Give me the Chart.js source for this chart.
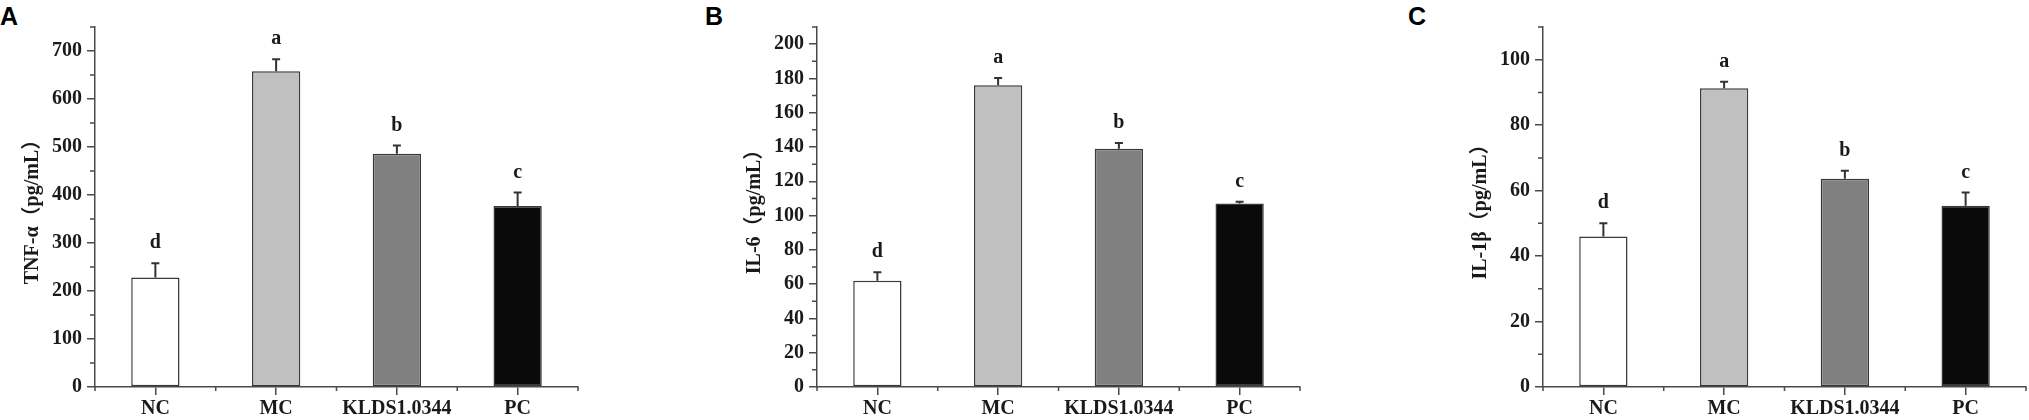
<!DOCTYPE html>
<html>
<head>
<meta charset="utf-8">
<script src="https://cdn.jsdelivr.net/npm/chart.js@4/dist/chart.umd.min.js"></script>
<style>
  body { margin: 0; background: #fff; width: 2029px; height: 420px; position: relative; overflow: hidden; }
  canvas { position: absolute; top: 0; }
  .tag { position: absolute; top: 4px; font: bold 25px "Liberation Sans", Arial, sans-serif; line-height: 25px; color: #000; }
</style>
</head>
<body>
<div class="tag" style="left:0px">A</div>
<div class="tag" style="left:705px">B</div>
<div class="tag" style="left:1408px">C</div>
<canvas id="chartA" width="581" height="420" style="left:0px"></canvas>
<canvas id="chartB" width="581" height="420" style="left:722px"></canvas>
<canvas id="chartC" width="581" height="420" style="left:1448px"></canvas>
<script>
// groups and values
const categories = ["NC", "MC", "KLDS1.0344", "PC"];
const sigLetters = ["d", "a", "b", "c"];

const tnfValues = [228, 658, 486, 377];
const tnfErrors = [30, 25, 17, 28];
const tnfTicks = [0, 100, 200, 300, 400, 500, 600, 700];
const tnfMinor = [50, 150, 250, 350, 450, 550, 650, 750];

const il6Values = [62, 176, 139, 107];
const il6Errors = [5, 4.3, 3.3, 1];
const il6Ticks = [0, 20, 40, 60, 80, 100, 120, 140, 160, 180, 200];
const il6Minor = [10, 30, 50, 70, 90, 110, 130, 150, 170, 190, 210];

const il1bValues = [46, 91.3, 63.6, 55.4];
const il1bErrors = [4, 2, 2.5, 4];
const il1bTicks = [0, 20, 40, 60, 80, 100];
const il1bMinor = [10, 30, 50, 70, 90, 110];

const barColors = ["#ffffff", "#c0c0c0", "#808080", "#0a0a0a"];
const axisColor = "#4a4a4a";
const textColor = "#1a1a1a";
const serif = "'Liberation Serif', 'Times New Roman', 'Noto Sans CJK SC', serif";

// error bars, significance letters and minor ticks
const extras = {
    id: 'extras',
    afterDraw(chart, args, opts) {
        const ctx = chart.ctx;
        const x = chart.scales.x, y = chart.scales.y;
        const meta = chart.getDatasetMeta(0);
        ctx.save();
        ctx.strokeStyle = "#333";
        ctx.lineWidth = 2;
        ctx.fillStyle = textColor;
        ctx.font = "bold 20px " + serif;
        ctx.textAlign = "center";
        ctx.textBaseline = "alphabetic";
        opts.values.forEach((v, i) => {
            const px = meta.data[i].x;
            const yb = y.getPixelForValue(v);
            const yt = y.getPixelForValue(v + opts.errors[i]);
            ctx.beginPath();
            ctx.moveTo(px, yb);
            ctx.lineTo(px, yt);
            ctx.moveTo(px - 4, yt);
            ctx.lineTo(px + 4, yt);
            ctx.stroke();
            ctx.fillText(opts.letters[i], px, yt - 15);
        });
        ctx.strokeStyle = axisColor;
        ctx.lineWidth = 1.5;
        ctx.beginPath();
        opts.minor.forEach(v => {
            const py = y.getPixelForValue(v);
            ctx.moveTo(y.right - 5, py);
            ctx.lineTo(y.right, py);
        });
        for (let i = 0; i <= categories.length; i++) {
            const px = x.getPixelForValue(i - 0.5);
            ctx.moveTo(px, x.top);
            ctx.lineTo(px, x.top + 4);
        }
        ctx.stroke();
        ctx.restore();
    }
};

function makeChart(id, title, values, errors, ticks, minor, yMax) {
    const ctx = document.getElementById(id).getContext('2d');
    return new Chart(ctx, {
        type: 'bar',
        data: {
            labels: categories,
            datasets: [{
                data: values,
                backgroundColor: barColors,
                borderColor: "#3a3a3a",
                borderWidth: 1.5,
                borderSkipped: false,
                barPercentage: 0.4,
                categoryPercentage: 1
            }]
        },
        options: {
            responsive: false,
            animation: false,
            devicePixelRatio: 1,
            layout: { padding: { top: 27, right: 3, left: 0, bottom: 0 } },
            plugins: {
                legend: { display: false },
                tooltip: { enabled: false },
                extras: { values: values, errors: errors, letters: sigLetters, minor: minor }
            },
            scales: {
                x: {
                    offset: true,
                    afterFit: s => { s.height = 33; },
                    grid: { offset: false, drawOnChartArea: false, tickLength: 8, color: axisColor, lineWidth: 1.5 },
                    border: { color: axisColor, width: 1.5 },
                    ticks: { color: textColor, padding: 2, font: { family: serif, size: 20, weight: 'bold' } }
                },
                y: {
                    min: 0,
                    max: yMax,
                    afterFit: s => { s.width = 95; },
                    afterBuildTicks: s => { s.ticks = ticks.map(v => ({ value: v })); },
                    grid: { drawOnChartArea: false, tickLength: 8, color: axisColor, lineWidth: 1.5 },
                    border: { color: axisColor, width: 1.5 },
                    ticks: { color: textColor, padding: 5, font: { family: serif, size: 20, weight: 'bold' } },
                    title: {
                        display: true,
                        text: title,
                        color: textColor,
                        padding: { top: 21, bottom: 0 },
                        font: { family: serif, size: 20, weight: 'bold' }
                    }
                }
            }
        },
        plugins: [extras]
    });
}

makeChart('chartA', 'TNF-α（pg/mL）', tnfValues, tnfErrors, tnfTicks, tnfMinor, 750);
makeChart('chartB', 'IL-6（pg/mL）', il6Values, il6Errors, il6Ticks, il6Minor, 210);
makeChart('chartC', 'IL-1β（pg/mL）', il1bValues, il1bErrors, il1bTicks, il1bMinor, 110);
</script>
</body>
</html>
